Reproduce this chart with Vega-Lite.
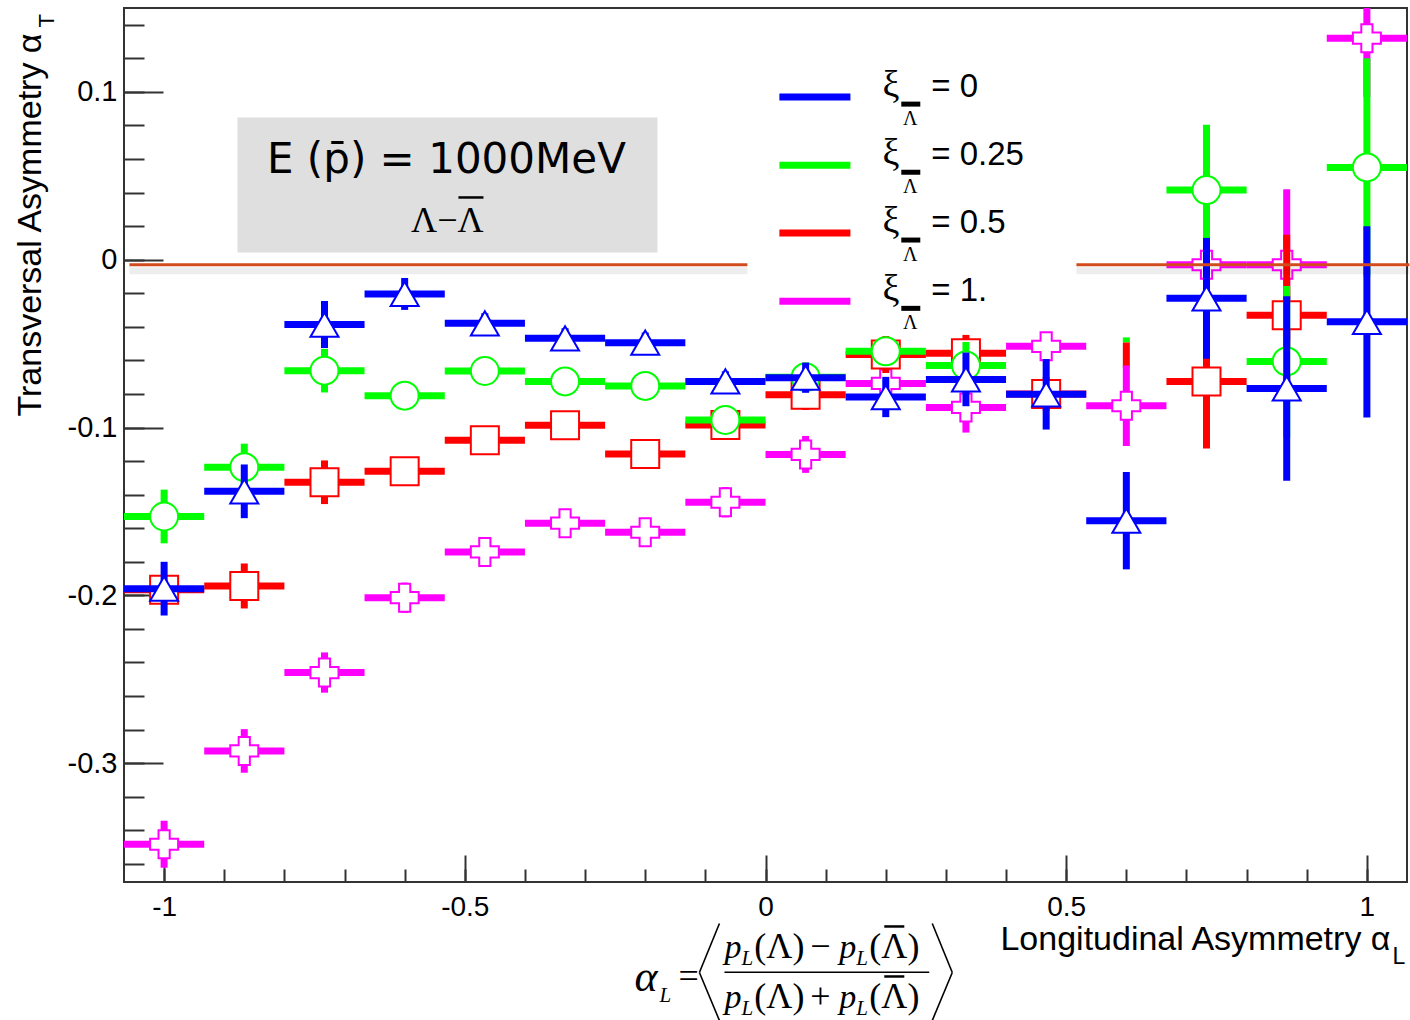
{
  "$schema": "https://vega.github.io/schema/vega-lite/v6.json",
  "autosize": {"type": "none"},
  "width": 1283,
  "height": 874,
  "padding": {"left": 124, "top": 8, "right": 3, "bottom": 138},
  "background": "white",
  "config": {
    "view": {"stroke": "#333333", "strokeWidth": 2},
    "axis": {
      "domain": false, "grid": false, "tickColor": "#333333", "tickWidth": 2,
      "labelFont": "Liberation Sans", "labelFontSize": 29, "labelColor": "#000000",
      "titleFont": "Liberation Sans", "titleFontWeight": "normal", "titleColor": "#000000",
      "labelFlush": false, "labelOverlap": false
    }
  },
  "datasets": {
    "pts": [
      {"s":"1","x":-1,"lo":-1.0667,"hi":-0.9333,"y":-0.3483,"e":0.014},
      {"s":"1","x":-0.8667,"lo":-0.9333,"hi":-0.8,"y":-0.2927,"e":0.013},
      {"s":"1","x":-0.7333,"lo":-0.8,"hi":-0.6667,"y":-0.246,"e":0.012},
      {"s":"1","x":-0.6,"lo":-0.6667,"hi":-0.5333,"y":-0.2014,"e":0.009},
      {"s":"1","x":-0.4667,"lo":-0.5333,"hi":-0.4,"y":-0.1741,"e":0.006},
      {"s":"1","x":-0.3333,"lo":-0.4,"hi":-0.2667,"y":-0.157,"e":0.007},
      {"s":"1","x":-0.2,"lo":-0.2667,"hi":-0.1333,"y":-0.1624,"e":0.007},
      {"s":"1","x":-0.0667,"lo":-0.1333,"hi":0,"y":-0.1445,"e":0.009},
      {"s":"1","x":0.0667,"lo":0,"hi":0.1333,"y":-0.116,"e":0.011},
      {"s":"1","x":0.2,"lo":0.1333,"hi":0.2667,"y":-0.0737,"e":0.013},
      {"s":"1","x":0.3333,"lo":0.2667,"hi":0.4,"y":-0.088,"e":0.015},
      {"s":"1","x":0.4667,"lo":0.4,"hi":0.5333,"y":-0.0516,"e":0.007},
      {"s":"1","x":0.6,"lo":0.5333,"hi":0.6667,"y":-0.087,"e":0.024},
      {"s":"1","x":0.7333,"lo":0.6667,"hi":0.8,"y":-0.003,"e":0.03},
      {"s":"1","x":0.8667,"lo":0.8,"hi":0.9333,"y":-0.003,"e":0.045},
      {"s":"1","x":1,"lo":0.9333,"hi":1.0667,"y":0.132,"e":0.035},
      {"s":"0.5","x":-1,"lo":-1.0667,"hi":-0.9333,"y":-0.1966,"e":0.006},
      {"s":"0.5","x":-0.8667,"lo":-0.9333,"hi":-0.8,"y":-0.1944,"e":0.0134},
      {"s":"0.5","x":-0.7333,"lo":-0.8,"hi":-0.6667,"y":-0.1326,"e":0.013},
      {"s":"0.5","x":-0.6,"lo":-0.6667,"hi":-0.5333,"y":-0.126,"e":0.006},
      {"s":"0.5","x":-0.4667,"lo":-0.5333,"hi":-0.4,"y":-0.1075,"e":0.006},
      {"s":"0.5","x":-0.3333,"lo":-0.4,"hi":-0.2667,"y":-0.0986,"e":0.006},
      {"s":"0.5","x":-0.2,"lo":-0.2667,"hi":-0.1333,"y":-0.1157,"e":0.006},
      {"s":"0.5","x":-0.0667,"lo":-0.1333,"hi":0,"y":-0.0985,"e":0.006},
      {"s":"0.5","x":0.0667,"lo":0,"hi":0.1333,"y":-0.0805,"e":0.009},
      {"s":"0.5","x":0.2,"lo":0.1333,"hi":0.2667,"y":-0.0565,"e":0.011},
      {"s":"0.5","x":0.3333,"lo":0.2667,"hi":0.4,"y":-0.0558,"e":0.011},
      {"s":"0.5","x":0.4667,"lo":0.4,"hi":0.5333,"y":-0.08,"e":0.01},
      {"s":"0.5","x":0.7333,"lo":0.6667,"hi":0.8,"y":-0.0725,"e":0.04},
      {"s":"0.5","x":0.8667,"lo":0.8,"hi":0.9333,"y":-0.0331,"e":0.048},
      {"s":"0.25","x":-1,"lo":-1.0667,"hi":-0.9333,"y":-0.153,"e":0.016},
      {"s":"0.25","x":-0.8667,"lo":-0.9333,"hi":-0.8,"y":-0.1236,"e":0.014},
      {"s":"0.25","x":-0.7333,"lo":-0.8,"hi":-0.6667,"y":-0.0661,"e":0.013},
      {"s":"0.25","x":-0.6,"lo":-0.6667,"hi":-0.5333,"y":-0.081,"e":0.006},
      {"s":"0.25","x":-0.4667,"lo":-0.5333,"hi":-0.4,"y":-0.0663,"e":0.006},
      {"s":"0.25","x":-0.3333,"lo":-0.4,"hi":-0.2667,"y":-0.0725,"e":0.006},
      {"s":"0.25","x":-0.2,"lo":-0.2667,"hi":-0.1333,"y":-0.0752,"e":0.006},
      {"s":"0.25","x":-0.0667,"lo":-0.1333,"hi":0,"y":-0.0955,"e":0.006},
      {"s":"0.25","x":0.0667,"lo":0,"hi":0.1333,"y":-0.07,"e":0.006},
      {"s":"0.25","x":0.2,"lo":0.1333,"hi":0.2667,"y":-0.0546,"e":0.008},
      {"s":"0.25","x":0.3333,"lo":0.2667,"hi":0.4,"y":-0.063,"e":0.014},
      {"s":"0.25","x":0.7333,"lo":0.6667,"hi":0.8,"y":0.0415,"e":0.039},
      {"s":"0.25","x":0.8667,"lo":0.8,"hi":0.9333,"y":-0.0606,"e":0.045},
      {"s":"0.25","x":1,"lo":0.9333,"hi":1.0667,"y":0.055,"e":0.065},
      {"s":"0","x":-1,"lo":-1.0667,"hi":-0.9333,"y":-0.196,"e":0.016},
      {"s":"0","x":-0.8667,"lo":-0.9333,"hi":-0.8,"y":-0.138,"e":0.016},
      {"s":"0","x":-0.7333,"lo":-0.8,"hi":-0.6667,"y":-0.0386,"e":0.014},
      {"s":"0","x":-0.6,"lo":-0.6667,"hi":-0.5333,"y":-0.0204,"e":0.0095},
      {"s":"0","x":-0.4667,"lo":-0.5333,"hi":-0.4,"y":-0.0379,"e":0.006},
      {"s":"0","x":-0.3333,"lo":-0.4,"hi":-0.2667,"y":-0.0468,"e":0.006},
      {"s":"0","x":-0.2,"lo":-0.2667,"hi":-0.1333,"y":-0.0494,"e":0.006},
      {"s":"0","x":-0.0667,"lo":-0.1333,"hi":0,"y":-0.0725,"e":0.006},
      {"s":"0","x":0.0667,"lo":0,"hi":0.1333,"y":-0.0703,"e":0.009},
      {"s":"0","x":0.2,"lo":0.1333,"hi":0.2667,"y":-0.0818,"e":0.012},
      {"s":"0","x":0.3333,"lo":0.2667,"hi":0.4,"y":-0.0713,"e":0.016},
      {"s":"0","x":0.4667,"lo":0.4,"hi":0.5333,"y":-0.0802,"e":0.021},
      {"s":"0","x":0.6,"lo":0.5333,"hi":0.6667,"y":-0.1555,"e":0.029},
      {"s":"0","x":0.7333,"lo":0.6667,"hi":0.8,"y":-0.023,"e":0.036},
      {"s":"0","x":0.8667,"lo":0.8,"hi":0.9333,"y":-0.0767,"e":0.055},
      {"s":"0","x":1,"lo":0.9333,"hi":1.0667,"y":-0.037,"e":0.057}
    ],
    "part": [
      {"s":"0.25","x":0.6,"y":-0.0463,"y2":-0.0493},
      {"s":"0.5","x":0.6,"y":-0.0493,"y2":-0.0642}
    ],
    "leg": [
      {"s":"0","lab":"= 0","ly":0.0969},
      {"s":"0.25","lab":"= 0.25","ly":0.0563},
      {"s":"0.5","lab":"= 0.5","ly":0.0159},
      {"s":"1","lab":"= 1.","ly":-0.0248}
    ],
    "fml": [
      {"t":"α","k":"al","x":-0.218,"y":-0.4355},
      {"t":"L","k":"sub","x":-0.1764,"y":-0.4426},
      {"t":"=","k":"up","x":-0.1447,"y":-0.4337},
      {"t":"p","k":"it","x":-0.0683,"y":-0.4158},
      {"t":"L","k":"sub","x":-0.0401,"y":-0.42},
      {"t":"(Λ)","k":"up","x":-0.0185,"y":-0.4158},
      {"t":"−","k":"up","x":0.0746,"y":-0.4158},
      {"t":"p","k":"it","x":0.1228,"y":-0.4158},
      {"t":"L","k":"sub","x":0.151,"y":-0.42},
      {"t":"(Λ)","k":"up","x":0.1726,"y":-0.4158},
      {"t":"p","k":"it","x":-0.0683,"y":-0.4456},
      {"t":"L","k":"sub","x":-0.0401,"y":-0.4498},
      {"t":"(Λ)","k":"up","x":-0.0185,"y":-0.4456},
      {"t":"+","k":"up","x":0.0746,"y":-0.4456},
      {"t":"p","k":"it","x":0.1228,"y":-0.4456},
      {"t":"L","k":"sub","x":0.151,"y":-0.4498},
      {"t":"(Λ)","k":"up","x":0.1726,"y":-0.4456}
    ],
    "seg": [
      {"x":-0.0683,"y":-0.42455,"x2":0.2723,"y2":-0.42455},
      {"x":-0.0766,"y":-0.39553,"x2":-0.1099,"y2":-0.42473},
      {"x":-0.1099,"y":-0.42473,"x2":-0.0766,"y2":-0.45334},
      {"x":0.2773,"y":-0.39553,"x2":0.3106,"y2":-0.42473},
      {"x":0.3106,"y":-0.42473,"x2":0.2773,"y2":-0.45334}
    ],
    "ovl": [
      {"x":0.1975,"x2":0.2308,"y":-0.3973},
      {"x":0.1975,"x2":0.2308,"y":-0.4271},
      {"x":-0.5106,"x2":-0.469,"y":0.0371}
    ],
    "zline": [
      {"x":-1.0577,"x2":-0.0301,"y":-0.003},
      {"x":0.517,"x2":1.0707,"y":-0.003}
    ]
  },
  "resolve": {"axis": {"x": "independent", "y": "independent"}},
  "layer": [
    {
      "data": {"name": "pts"},
      "mark": {"type": "point", "opacity": 0},
      "encoding": {
        "x": {"field": "x", "type": "quantitative",
          "scale": {"domain": [-1.0667, 1.0667], "nice": false, "zero": false},
          "axis": {"orient": "bottom", "values": [-1, -0.5, 0, 0.5, 1], "tickSize": -27, "labelPadding": 38, "labelFontSize": 28,
            "labelExpr": "replace(format(datum.value, '~g'), '−', '-')",
            "title": "Longitudinal Asymmetry α", "titleFontSize": 34, "titleAlign": "right", "titleBaseline": "alphabetic", "titleX": 1266, "titleY": 67}},
        "y": {"field": "y", "type": "quantitative",
          "scale": {"domain": [-0.3708, 0.15], "nice": false, "zero": false},
          "axis": {"orient": "left", "values": [-0.3, -0.2, -0.1, 0, 0.1], "tickSize": -39, "labelPadding": 46,
            "labelExpr": "replace(format(datum.value, '~g'), '−', '-')",
            "title": "Transversal Asymmetry α", "titleFontSize": 34, "titleAngle": 270, "titleAlign": "right", "titleBaseline": "alphabetic", "titleX": -84, "titleY": 25}}
      }
    },
    {
      "data": {"name": "pts"},
      "mark": {"type": "point", "opacity": 0},
      "encoding": {
        "x": {"field": "x", "type": "quantitative",
          "axis": {"orient": "bottom", "values": [-1, -0.9, -0.8, -0.7, -0.6, -0.5, -0.4, -0.3, -0.2, -0.1, 0, 0.1, 0.2, 0.3, 0.4, 0.5, 0.6, 0.7, 0.8, 0.9, 1], "tickSize": -13, "labels": false,
            "title": "L", "titleFontSize": 23, "titleAlign": "left", "titleBaseline": "alphabetic", "titleX": 1268, "titleY": 81}},
        "y": {"field": "y", "type": "quantitative",
          "axis": {"orient": "left", "values": [-0.36, -0.34, -0.32, -0.3, -0.28, -0.26, -0.24, -0.22, -0.2, -0.18, -0.16, -0.14, -0.12, -0.1, -0.08, -0.06, -0.04, -0.02, 0, 0.02, 0.04, 0.06, 0.08, 0.1, 0.12, 0.14], "tickSize": -20, "labels": false,
            "title": "T", "titleFontSize": 22, "titleAngle": 270, "titleAlign": "left", "titleBaseline": "alphabetic", "titleX": -71, "titleY": 19}}
      }
    },
    {
      "data": {"values": [{"x": -0.878, "x2": -0.1797, "y": 0.00435, "y2": 0.0848}]},
      "mark": {"type": "rect", "color": "#dfdfdf"},
      "encoding": {
        "x": {"field": "x", "type": "quantitative", "axis": null}, "x2": {"field": "x2"},
        "y": {"field": "y", "type": "quantitative", "axis": null}, "y2": {"field": "y2"}
      }
    },
    {
      "data": {"values": [{"t": "E (p̄) = 1000MeV", "x": -0.5306, "y": 0.0514}]},
      "mark": {"type": "text", "font": "DejaVu Sans", "fontSize": 42, "align": "center", "baseline": "alphabetic", "color": "#000000"},
      "encoding": {
        "x": {"field": "x", "type": "quantitative", "axis": null},
        "y": {"field": "y", "type": "quantitative", "axis": null},
        "text": {"field": "t"}
      }
    },
    {
      "data": {"values": [{"t": "Λ−Λ", "x": -0.529, "y": 0.0163}]},
      "mark": {"type": "text", "font": "Liberation Serif", "fontSize": 36, "align": "center", "baseline": "alphabetic", "color": "#000000"},
      "encoding": {
        "x": {"field": "x", "type": "quantitative", "axis": null},
        "y": {"field": "y", "type": "quantitative", "axis": null},
        "text": {"field": "t"}
      }
    },
    {
      "data": {"name": "part"},
      "mark": {"type": "rule", "strokeWidth": 7},
      "encoding": {
        "x": {"field": "x", "type": "quantitative", "axis": null},
        "y": {"field": "y", "type": "quantitative", "axis": null}, "y2": {"field": "y2"},
        "color": {"field": "s", "type": "nominal", "scale": {"domain": ["0", "0.25", "0.5", "1"], "range": ["#0000ff", "#00ff00", "#ff0000", "#ff00ff"]}, "legend": null}
      }
    },
    {
      "data": {"name": "pts"}, "transform": [{"filter": "datum.s == '1'"}],
      "mark": {"type": "rule", "strokeWidth": 7, "clip": true},
      "encoding": {
        "x": {"field": "lo", "type": "quantitative", "axis": null}, "x2": {"field": "hi"},
        "y": {"field": "y", "type": "quantitative", "axis": null},
        "color": {"field": "s", "type": "nominal", "scale": {"domain": ["0", "0.25", "0.5", "1"], "range": ["#0000ff", "#00ff00", "#ff0000", "#ff00ff"]}, "legend": null}
      }
    },
    {
      "data": {"name": "pts"}, "transform": [{"filter": "datum.s == '1'"}],
      "mark": {"type": "errorbar", "thickness": 7, "clip": true},
      "encoding": {
        "x": {"field": "x", "type": "quantitative", "axis": null},
        "y": {"field": "y", "type": "quantitative", "axis": null}, "yError": {"field": "e"},
        "color": {"field": "s", "type": "nominal", "scale": {"domain": ["0", "0.25", "0.5", "1"], "range": ["#0000ff", "#00ff00", "#ff0000", "#ff00ff"]}, "legend": null}
      }
    },
    {
      "data": {"name": "pts"}, "transform": [{"filter": "datum.s == '1'"}],
      "mark": {"type": "point", "filled": false, "fill": "white", "size": 784, "strokeWidth": 2, "opacity": 1, "clip": true},
      "encoding": {
        "x": {"field": "x", "type": "quantitative", "axis": null},
        "y": {"field": "y", "type": "quantitative", "axis": null},
        "color": {"field": "s", "type": "nominal", "scale": {"domain": ["0", "0.25", "0.5", "1"], "range": ["#0000ff", "#00ff00", "#ff0000", "#ff00ff"]}, "legend": null},
        "shape": {"field": "s", "type": "nominal", "scale": {"domain": ["0", "0.25", "0.5", "1"], "range": ["triangle-up", "circle", "square", "cross"]}, "legend": null}
      }
    },
    {
      "data": {"name": "pts"}, "transform": [{"filter": "datum.s == '0.5'"}],
      "mark": {"type": "rule", "strokeWidth": 7, "clip": true},
      "encoding": {
        "x": {"field": "lo", "type": "quantitative", "axis": null}, "x2": {"field": "hi"},
        "y": {"field": "y", "type": "quantitative", "axis": null},
        "color": {"field": "s", "type": "nominal", "scale": {"domain": ["0", "0.25", "0.5", "1"], "range": ["#0000ff", "#00ff00", "#ff0000", "#ff00ff"]}, "legend": null}
      }
    },
    {
      "data": {"name": "pts"}, "transform": [{"filter": "datum.s == '0.5'"}],
      "mark": {"type": "errorbar", "thickness": 7, "clip": true},
      "encoding": {
        "x": {"field": "x", "type": "quantitative", "axis": null},
        "y": {"field": "y", "type": "quantitative", "axis": null}, "yError": {"field": "e"},
        "color": {"field": "s", "type": "nominal", "scale": {"domain": ["0", "0.25", "0.5", "1"], "range": ["#0000ff", "#00ff00", "#ff0000", "#ff00ff"]}, "legend": null}
      }
    },
    {
      "data": {"name": "pts"}, "transform": [{"filter": "datum.s == '0.5'"}],
      "mark": {"type": "point", "filled": false, "fill": "white", "size": 784, "strokeWidth": 2, "opacity": 1, "clip": true},
      "encoding": {
        "x": {"field": "x", "type": "quantitative", "axis": null},
        "y": {"field": "y", "type": "quantitative", "axis": null},
        "color": {"field": "s", "type": "nominal", "scale": {"domain": ["0", "0.25", "0.5", "1"], "range": ["#0000ff", "#00ff00", "#ff0000", "#ff00ff"]}, "legend": null},
        "shape": {"field": "s", "type": "nominal", "scale": {"domain": ["0", "0.25", "0.5", "1"], "range": ["triangle-up", "circle", "square", "cross"]}, "legend": null}
      }
    },
    {
      "data": {"name": "pts"}, "transform": [{"filter": "datum.s == '0.25'"}],
      "mark": {"type": "rule", "strokeWidth": 7, "clip": true},
      "encoding": {
        "x": {"field": "lo", "type": "quantitative", "axis": null}, "x2": {"field": "hi"},
        "y": {"field": "y", "type": "quantitative", "axis": null},
        "color": {"field": "s", "type": "nominal", "scale": {"domain": ["0", "0.25", "0.5", "1"], "range": ["#0000ff", "#00ff00", "#ff0000", "#ff00ff"]}, "legend": null}
      }
    },
    {
      "data": {"name": "pts"}, "transform": [{"filter": "datum.s == '0.25'"}],
      "mark": {"type": "errorbar", "thickness": 7, "clip": true},
      "encoding": {
        "x": {"field": "x", "type": "quantitative", "axis": null},
        "y": {"field": "y", "type": "quantitative", "axis": null}, "yError": {"field": "e"},
        "color": {"field": "s", "type": "nominal", "scale": {"domain": ["0", "0.25", "0.5", "1"], "range": ["#0000ff", "#00ff00", "#ff0000", "#ff00ff"]}, "legend": null}
      }
    },
    {
      "data": {"name": "pts"}, "transform": [{"filter": "datum.s == '0.25'"}],
      "mark": {"type": "point", "filled": false, "fill": "white", "size": 784, "strokeWidth": 2, "opacity": 1, "clip": true},
      "encoding": {
        "x": {"field": "x", "type": "quantitative", "axis": null},
        "y": {"field": "y", "type": "quantitative", "axis": null},
        "color": {"field": "s", "type": "nominal", "scale": {"domain": ["0", "0.25", "0.5", "1"], "range": ["#0000ff", "#00ff00", "#ff0000", "#ff00ff"]}, "legend": null},
        "shape": {"field": "s", "type": "nominal", "scale": {"domain": ["0", "0.25", "0.5", "1"], "range": ["triangle-up", "circle", "square", "cross"]}, "legend": null}
      }
    },
    {
      "data": {"name": "pts"}, "transform": [{"filter": "datum.s == '0'"}],
      "mark": {"type": "rule", "strokeWidth": 7, "clip": true},
      "encoding": {
        "x": {"field": "lo", "type": "quantitative", "axis": null}, "x2": {"field": "hi"},
        "y": {"field": "y", "type": "quantitative", "axis": null},
        "color": {"field": "s", "type": "nominal", "scale": {"domain": ["0", "0.25", "0.5", "1"], "range": ["#0000ff", "#00ff00", "#ff0000", "#ff00ff"]}, "legend": null}
      }
    },
    {
      "data": {"name": "pts"}, "transform": [{"filter": "datum.s == '0'"}],
      "mark": {"type": "errorbar", "thickness": 7, "clip": true},
      "encoding": {
        "x": {"field": "x", "type": "quantitative", "axis": null},
        "y": {"field": "y", "type": "quantitative", "axis": null}, "yError": {"field": "e"},
        "color": {"field": "s", "type": "nominal", "scale": {"domain": ["0", "0.25", "0.5", "1"], "range": ["#0000ff", "#00ff00", "#ff0000", "#ff00ff"]}, "legend": null}
      }
    },
    {
      "data": {"name": "pts"}, "transform": [{"filter": "datum.s == '0'"}],
      "mark": {"type": "point", "filled": false, "fill": "white", "size": 784, "strokeWidth": 2, "opacity": 1, "clip": true},
      "encoding": {
        "x": {"field": "x", "type": "quantitative", "axis": null},
        "y": {"field": "y", "type": "quantitative", "axis": null},
        "color": {"field": "s", "type": "nominal", "scale": {"domain": ["0", "0.25", "0.5", "1"], "range": ["#0000ff", "#00ff00", "#ff0000", "#ff00ff"]}, "legend": null},
        "shape": {"field": "s", "type": "nominal", "scale": {"domain": ["0", "0.25", "0.5", "1"], "range": ["triangle-up", "circle", "square", "cross"]}, "legend": null}
      }
    },
    {
      "data": {"name": "leg"},
      "mark": {"type": "rule", "strokeWidth": 7},
      "encoding": {
        "x": {"datum": 0.0231, "type": "quantitative", "axis": null}, "x2": {"datum": 0.1412},
        "y": {"field": "ly", "type": "quantitative", "axis": null},
        "color": {"field": "s", "type": "nominal", "scale": {"domain": ["0", "0.25", "0.5", "1"], "range": ["#0000ff", "#00ff00", "#ff0000", "#ff00ff"]}, "legend": null}
      }
    },
    {
      "data": {"name": "leg"},
      "mark": {"type": "text", "text": "ξ", "font": "Liberation Serif", "fontSize": 38, "align": "left", "baseline": "alphabetic", "color": "#000000"},
      "encoding": {
        "x": {"datum": 0.1944, "type": "quantitative", "axis": null},
        "y": {"field": "ly", "type": "quantitative", "axis": null}
      }
    },
    {
      "data": {"name": "leg"},
      "mark": {"type": "rule", "strokeWidth": 5, "color": "#000000", "yOffset": 7},
      "encoding": {
        "x": {"datum": 0.2258, "type": "quantitative", "axis": null}, "x2": {"datum": 0.2574},
        "y": {"field": "ly", "type": "quantitative", "axis": null}
      }
    },
    {
      "data": {"name": "leg"},
      "mark": {"type": "text", "text": "Λ", "font": "Liberation Serif", "fontSize": 20, "align": "center", "baseline": "alphabetic", "dy": 28, "color": "#000000"},
      "encoding": {
        "x": {"datum": 0.2408, "type": "quantitative", "axis": null},
        "y": {"field": "ly", "type": "quantitative", "axis": null}
      }
    },
    {
      "data": {"name": "leg"},
      "mark": {"type": "text", "font": "Liberation Sans", "fontSize": 33, "align": "left", "baseline": "alphabetic", "color": "#000000"},
      "encoding": {
        "x": {"datum": 0.2757, "type": "quantitative", "axis": null},
        "y": {"field": "ly", "type": "quantitative", "axis": null},
        "text": {"field": "lab"}
      }
    },
    {
      "data": {"name": "fml"}, "transform": [{"filter": "datum.k == 'al'"}],
      "mark": {"type": "text", "font": "Liberation Serif", "fontStyle": "italic", "fontSize": 44, "align": "left", "baseline": "alphabetic", "color": "#000000"},
      "encoding": {
        "x": {"field": "x", "type": "quantitative", "axis": null},
        "y": {"field": "y", "type": "quantitative", "axis": null},
        "text": {"field": "t"}
      }
    },
    {
      "data": {"name": "fml"}, "transform": [{"filter": "datum.k == 'it'"}],
      "mark": {"type": "text", "font": "Liberation Serif", "fontStyle": "italic", "fontSize": 34, "align": "left", "baseline": "alphabetic", "color": "#000000"},
      "encoding": {
        "x": {"field": "x", "type": "quantitative", "axis": null},
        "y": {"field": "y", "type": "quantitative", "axis": null},
        "text": {"field": "t"}
      }
    },
    {
      "data": {"name": "fml"}, "transform": [{"filter": "datum.k == 'up'"}],
      "mark": {"type": "text", "font": "Liberation Serif", "fontSize": 36, "align": "left", "baseline": "alphabetic", "color": "#000000"},
      "encoding": {
        "x": {"field": "x", "type": "quantitative", "axis": null},
        "y": {"field": "y", "type": "quantitative", "axis": null},
        "text": {"field": "t"}
      }
    },
    {
      "data": {"name": "fml"}, "transform": [{"filter": "datum.k == 'sub'"}],
      "mark": {"type": "text", "font": "Liberation Serif", "fontStyle": "italic", "fontSize": 21, "align": "left", "baseline": "alphabetic", "color": "#000000"},
      "encoding": {
        "x": {"field": "x", "type": "quantitative", "axis": null},
        "y": {"field": "y", "type": "quantitative", "axis": null},
        "text": {"field": "t"}
      }
    },
    {
      "data": {"name": "seg"},
      "mark": {"type": "rule", "strokeWidth": 1.6, "color": "#000000"},
      "encoding": {
        "x": {"field": "x", "type": "quantitative", "axis": null}, "x2": {"field": "x2"},
        "y": {"field": "y", "type": "quantitative", "axis": null}, "y2": {"field": "y2"}
      }
    },
    {
      "data": {"name": "ovl"},
      "mark": {"type": "rule", "strokeWidth": 2.5, "color": "#000000"},
      "encoding": {
        "x": {"field": "x", "type": "quantitative", "axis": null}, "x2": {"field": "x2"},
        "y": {"field": "y", "type": "quantitative", "axis": null}
      }
    },
    {
      "data": {"name": "zline"},
      "mark": {"type": "rule", "strokeWidth": 7, "color": "#000000", "opacity": 0.07, "yOffset": 6},
      "encoding": {
        "x": {"field": "x", "type": "quantitative", "axis": null}, "x2": {"field": "x2"},
        "y": {"field": "y", "type": "quantitative", "axis": null}
      }
    },
    {
      "data": {"name": "zline"},
      "mark": {"type": "rule", "strokeWidth": 3, "color": "#d24b1e"},
      "encoding": {
        "x": {"field": "x", "type": "quantitative", "axis": null}, "x2": {"field": "x2"},
        "y": {"field": "y", "type": "quantitative", "axis": null}
      }
    }
  ]
}
